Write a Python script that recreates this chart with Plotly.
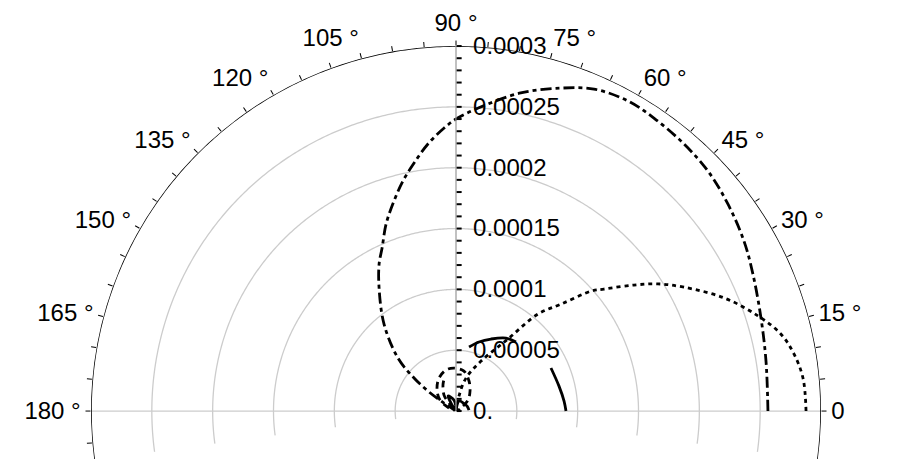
import plotly.graph_objects as go

# curves (theta in degrees, r)
dashdot_theta = [0, 9.2, 17.0, 24.8, 30.6, 37.3, 43.6, 49.5, 55.9, 61.0, 66.8, 72.0, 78.5, 85.8, 90,
                 92.4, 96.0, 99.6, 103.0, 106.8, 110.5, 114.4, 117.6, 122.0, 129.6, 137.6, 141.8,
                 144.5, 146.3, 147]
dashdot_r = [2.564e-4, 2.581e-4, 2.621e-4, 2.688e-4, 2.749e-4, 2.809e-4, 2.860e-4, 2.886e-4, 2.906e-4,
             2.914e-4, 2.879e-4, 2.791e-4, 2.668e-4, 2.497e-4, 2.400e-4,
             2.328e-4, 2.207e-4, 2.067e-4, 1.940e-4, 1.786e-4, 1.641e-4, 1.471e-4, 1.364e-4,
             1.193e-4, 0.928e-4, 0.646e-4, 0.439e-4, 0.283e-4, 0.148e-4, 0.0]

dotted_theta = [0, 5.4, 9.6, 13.3, 17.5, 22.9, 28.5, 32.2, 35.3, 39.5, 41.6, 45.5, 49.8, 54.2,
                63.4, 73.1, 78.7, 84]
dotted_r = [2.877e-4, 2.865e-4, 2.817e-4, 2.745e-4, 2.602e-4, 2.391e-4, 2.133e-4, 1.961e-4, 1.792e-4,
            1.576e-4, 1.484e-4, 1.232e-4, 1.044e-4, 0.730e-4, 0.459e-4, 0.283e-4, 0.126e-4, 0.0]

dashed_theta = [30, 35.5, 42.5, 55, 66.6, 78.7, 92.7, 103.7, 117.3, 129.6, 142.6, 153, 160,
                None, 112, 116.6, 126.9, 131, 135]
dashed_r = [0.0, 0.071e-4, 0.134e-4, 0.201e-4, 0.269e-4, 0.335e-4, 0.353e-4, 0.347e-4, 0.305e-4,
            0.245e-4, 0.176e-4, 0.092e-4, 0.0,
            None, 0.27e-4, 0.239e-4, 0.164e-4, 0.087e-4, 0.0]

solid_theta = [0, 5.3, 13.6, 24.4, None, 49.0, 55.6, 64.1, 71.6, 78.5,
               None, 150, 118, 100, 90, None, 80, 73, 45, 24, 4]
solid_r = [0.904e-4, 0.892e-4, 0.871e-4, 0.857e-4, None, 0.751e-4, 0.727e-4, 0.658e-4, 0.598e-4, 0.537e-4,
           None, 0.0, 0.14e-4, 0.09e-4, 0.0, None, 0.0, 0.086e-4, 0.09e-4, 0.1e-4, 0.107e-4]

grid_r = [0.00005, 0.0001, 0.00015, 0.0002, 0.00025]
r_max = 0.0003

rad_ticks = [i * 0.00001 for i in range(31)]
rad_text = []
for i in range(31):
    if i == 0:
        rad_text.append(" 0.")
    elif i % 5 == 0:
        rad_text.append(" " + ("%.5f" % (i * 0.00001)).rstrip("0"))
    else:
        rad_text.append("")

ang_ticks = list(range(0, 360, 5))
ang_text = []
for a in ang_ticks:
    if a == 0:
        ang_text.append("0")
    elif a % 15 == 0 and a <= 180:
        ang_text.append("%d °" % a)
    else:
        ang_text.append("")

fig = go.Figure()

# grid circles, horizontal axis line, outer frame
circle_theta = [t * 0.5 for t in range(-30, 391)]
for g in grid_r:
    fig.add_trace(go.Scatterpolar(r=[g] * len(circle_theta), theta=circle_theta, mode="lines",
                                  line=dict(color="rgb(204,204,204)", width=1.3),
                                  hoverinfo="skip", showlegend=False))
fig.add_trace(go.Scatterpolar(r=[r_max, r_max], theta=[0, 180], mode="lines",
                              line=dict(color="rgb(204,204,204)", width=1.3),
                              hoverinfo="skip", showlegend=False))
fig.add_trace(go.Scatterpolar(r=[r_max] * len(circle_theta), theta=circle_theta, mode="lines",
                              line=dict(color="black", width=1.6), cliponaxis=False,
                              hoverinfo="skip", showlegend=False))

lw = 2.8
fig.add_trace(go.Scatterpolar(r=dashdot_r, theta=dashdot_theta, mode="lines",
                              line=dict(color="black", width=lw, dash="11px,4px,4px,4px", shape="spline"),
                              showlegend=False))
fig.add_trace(go.Scatterpolar(r=dotted_r, theta=dotted_theta, mode="lines",
                              line=dict(color="black", width=lw, dash="4px,4px", shape="spline"),
                              showlegend=False))
fig.add_trace(go.Scatterpolar(r=dashed_r, theta=dashed_theta, mode="lines",
                              line=dict(color="black", width=lw, dash="7px,5px", shape="spline"),
                              showlegend=False))
fig.add_trace(go.Scatterpolar(r=solid_r, theta=solid_theta, mode="lines",
                              line=dict(color="black", width=lw, shape="spline"), showlegend=False))

fig.update_layout(
    width=913, height=459,
    margin=dict(l=83, r=100, t=38, b=7),
    paper_bgcolor="white",
    font=dict(family="Liberation Sans, Arial, sans-serif", size=24, color="black"),
    polar=dict(
        bgcolor="white",
        sector=[-7.7, 187.7],
        radialaxis=dict(range=[0, r_max], angle=90, side="clockwise", tickangle=90,
                        tickvals=rad_ticks, ticktext=rad_text, ticks="outside", ticklen=5,
                        tickwidth=1.5, tickcolor="black", showgrid=False,
                        showline=True, linecolor="rgb(160,160,160)", linewidth=1.3,
                        tickfont=dict(size=24)),
        angularaxis=dict(rotation=0, direction="counterclockwise", tickvals=ang_ticks,
                         ticktext=ang_text, ticks="outside", ticklen=5, tickwidth=1.2,
                         tickcolor="black", showgrid=False, showline=False,
                         tickfont=dict(size=24)),
    ),
)

fig.write_html("out.html")
